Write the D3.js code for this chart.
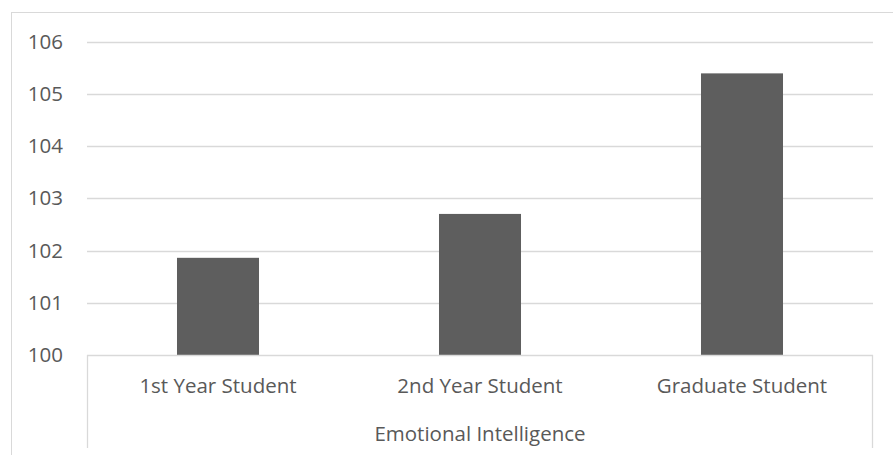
<!DOCTYPE html>
<html>
<head>
<meta charset="utf-8">
<script src="https://cdn.jsdelivr.net/npm/d3@7"></script>
<style>
  html, body { margin: 0; padding: 0; background: #fff; }
  svg { display: block; }
  text { font-family: "Open Sans", "Liberation Sans", sans-serif; fill: #595959; }
</style>
</head>
<body>
<svg id="chart" width="893" height="455"></svg>
<script>
// Mean emotional intelligence score by student group
const categories = ["1st Year Student", "2nd Year Student", "Graduate Student"];
const scores = [101.86, 102.70, 105.39];
const groupLabel = "Emotional Intelligence";
const yTicks = [100, 101, 102, 103, 104, 105, 106];

const svg = d3.select("#chart");
const W = 893, H = 455;
const plot = { left: 87, right: 873, top: 41.5, bottom: 355 };
const fontSize = "20.5px";

// Chart area border
svg.append("rect")
  .attr("x", 11.5).attr("y", 12.5)
  .attr("width", W + 10).attr("height", H + 10)
  .attr("fill", "none").attr("stroke", "#d9d9d9").attr("stroke-width", 1);

const x = d3.scaleBand()
  .domain(categories)
  .range([plot.left, plot.right])
  .padding(0);

const y = d3.scaleLinear()
  .domain([100, 106])
  .range([plot.bottom, plot.top]);

const barWidth = x.bandwidth() * 0.313;

// Horizontal gridlines
svg.append("g")
  .selectAll("line")
  .data(yTicks.filter(t => t !== 100))
  .join("line")
  .attr("x1", plot.left).attr("x2", plot.right)
  .attr("y1", d => Math.round(y(d)) + 0.5).attr("y2", d => Math.round(y(d)) + 0.5)
  .attr("stroke", "#d9d9d9").attr("stroke-width", 1.3);

// Y axis tick labels
const yAxis = d3.axisLeft(y).tickValues(yTicks).tickSize(0).tickPadding(0).tickFormat(d3.format("d"));
const yg = svg.append("g")
  .attr("transform", `translate(${63},0)`)
  .call(yAxis);
yg.select(".domain").remove();
yg.selectAll("text")
  .attr("font-size", fontSize)
  .attr("fill", "#595959")
  .attr("font-family", "\"Open Sans\", sans-serif");

// Bars
svg.append("g")
  .selectAll("rect")
  .data(categories.map((c, i) => ({ c, v: scores[i] })))
  .join("rect")
  .attr("x", d => x(d.c) + (x.bandwidth() - barWidth) / 2)
  .attr("y", d => y(d.v))
  .attr("width", barWidth)
  .attr("height", d => y(100) - y(d.v))
  .attr("fill", "#5e5e5e");

// Baseline and group bracket lines of the category axis
const axisG = svg.append("g").attr("stroke", "#d9d9d9").attr("stroke-width", 1.3).attr("fill", "none");
axisG.append("line")
  .attr("x1", plot.left).attr("x2", plot.right)
  .attr("y1", y(100) + 0.5).attr("y2", y(100) + 0.5);
axisG.append("line")
  .attr("x1", plot.left + 0.5).attr("x2", plot.left + 0.5)
  .attr("y1", y(100)).attr("y2", 448);
axisG.append("line")
  .attr("x1", plot.right - 0.5).attr("x2", plot.right - 0.5)
  .attr("y1", y(100)).attr("y2", 448);

// Category labels
svg.append("g")
  .selectAll("text")
  .data(categories)
  .join("text")
  .attr("x", d => x(d) + x.bandwidth() / 2)
  .attr("y", 393)
  .attr("text-anchor", "middle")
  .attr("font-size", fontSize)
  .text(d => d);

// Group label
svg.append("text")
  .attr("x", (plot.left + plot.right) / 2)
  .attr("y", 441)
  .attr("text-anchor", "middle")
  .attr("font-size", fontSize)
  .text(groupLabel);
</script>
</body>
</html>
